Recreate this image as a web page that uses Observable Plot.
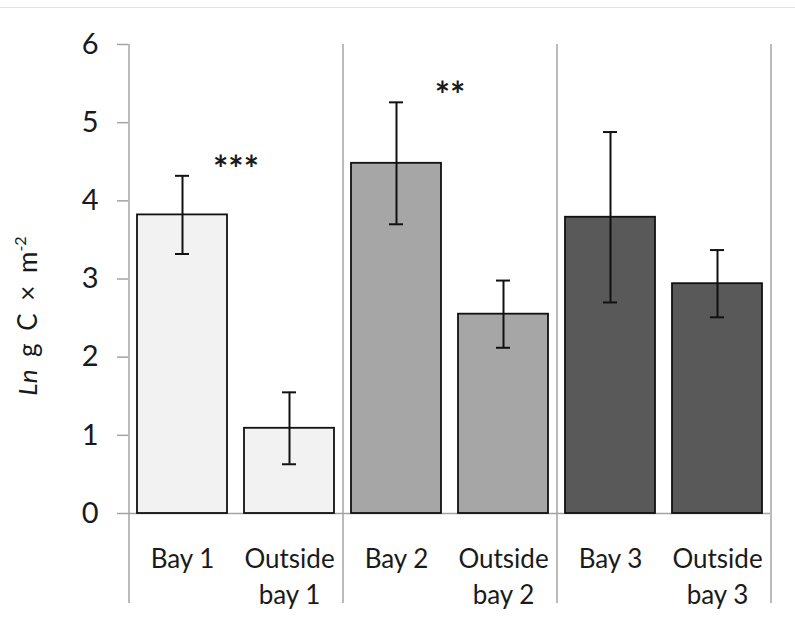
<!DOCTYPE html>
<html>
<head>
<meta charset="utf-8">
<script src="https://cdn.jsdelivr.net/npm/d3@7"></script>
<script src="https://cdn.jsdelivr.net/npm/@observablehq/plot@0.6"></script>
<style>
  html, body { margin: 0; padding: 0; background: #fff; }
  #wrap { position: relative; width: 795px; height: 619px; }
  #topline { position: absolute; left: 0; right: 0; top: 7px; height: 1px; background: #e2e2e2; }
  #chart svg { display: block; }
</style>
</head>
<body>
<div id="wrap">
  <div id="chart"></div>
  <div id="topline"></div>
</div>
<script>
// Carbon stock (log-transformed) inside and outside three bays
const categories = ["Bay 1", "Outside bay 1", "Bay 2", "Outside bay 2", "Bay 3", "Outside bay 3"];
const tickLabels = ["Bay 1", "Outside\nbay 1", "Bay 2", "Outside\nbay 2", "Bay 3", "Outside\nbay 3"];
const groups = ["Bay 1", "Bay 1", "Bay 2", "Bay 2", "Bay 3", "Bay 3"];
const means = [3.82, 1.09, 4.48, 2.55, 3.79, 2.94];
const errors = [0.50, 0.46, 0.78, 0.43, 1.09, 0.43];
const groupNames = ["Bay 1", "Bay 2", "Bay 3"];
const groupFills = ["#f2f2f2", "#a6a6a6", "#595959"];
const yTicks = [0, 1, 2, 3, 4, 5, 6];

// significance markers, placed between the paired bars
const sigLabels = ["***", "**"];
const sigAfter = ["Bay 1", "Bay 2"];
const sigY = [4.39, 5.33];

const rows = categories.map((c, i) => ({
  cat: c, group: groups[i], mean: means[i], lo: means[i] - errors[i], hi: means[i] + errors[i]
}));
const sigRows = sigLabels.map((s, i) => ({label: s, cat: sigAfter[i], y: sigY[i]}));

const W = 795, H = 619, mL = 128, mR = 25, mT = 44, mB = 106;
const halfStep = (W - mL - mR) / categories.length / 2;
const gray = "#a3a3a3";
const font = "Lato, 'Open Sans', sans-serif";

// separators at the start of each group and after the last bar
const edgeRows = [
  {cat: "Bay 1", dx: -halfStep},
  {cat: "Bay 2", dx: -halfStep},
  {cat: "Bay 3", dx: -halfStep},
  {cat: "Outside bay 3", dx: halfStep}
];

const chart = Plot.plot({
  width: W, height: H,
  marginLeft: mL, marginRight: mR, marginTop: mT, marginBottom: mB,
  style: {fontFamily: font, background: "white", color: "#1a1a1a"},
  x: {domain: categories, paddingInner: 0.16, paddingOuter: 0.08, label: null},
  y: {domain: [0, 6], label: null},
  color: {domain: groupNames, range: groupFills},
  marks: [
    Plot.axisY({ticks: yTicks, tickFormat: d => String(d), tickSize: 11, tickPadding: 19, fontSize: 29,
      stroke: gray, strokeWidth: 1.5, fill: "#1a1a1a", label: null}),
    Plot.axisX({tickSize: 0, tickPadding: 29, fontSize: 26, lineHeight: 1.38, fill: "#1a1a1a", label: null,
      tickFormat: d => tickLabels[categories.indexOf(d)]}),
    ...edgeRows.map(e => Plot.ruleX([e], {x: "cat", y1: 6, y2: 0, dx: e.dx, insetBottom: -90, stroke: gray, strokeWidth: 1.5})),
    Plot.ruleY([0], {stroke: gray, strokeWidth: 1.5}),
    Plot.barY(rows, {x: "cat", y: "mean", fill: "group", stroke: "#111", strokeWidth: 1.8}),
    Plot.ruleX(rows, {x: "cat", y1: "lo", y2: "hi", stroke: "#111", strokeWidth: 2}),
    Plot.tickY(rows, {x: "cat", y: "lo", stroke: "#111", strokeWidth: 2, insetLeft: 38, insetRight: 38}),
    Plot.tickY(rows, {x: "cat", y: "hi", stroke: "#111", strokeWidth: 2, insetLeft: 38, insetRight: 38}),
    Plot.text(sigRows, {x: "cat", y: "y", text: "label", dx: halfStep, fontSize: 36, fontWeight: "bold", fill: "#1a1a1a"})
  ]
});

// y-axis title with italic "Ln" and superscript exponent
const svg = d3.select(chart);
const title = svg.append("text")
  .attr("transform", "translate(37,316) rotate(-90)")
  .attr("text-anchor", "middle")
  .attr("font-family", font)
  .attr("font-size", 26)
  .attr("word-spacing", 6)
  .attr("fill", "#1a1a1a");
title.append("tspan").attr("font-style", "italic").text("Ln");
title.append("tspan").text(" g C × m");
title.append("tspan").attr("font-size", 16).attr("dy", -11).text("-2");

document.getElementById("chart").appendChild(chart);
</script>
</body>
</html>
